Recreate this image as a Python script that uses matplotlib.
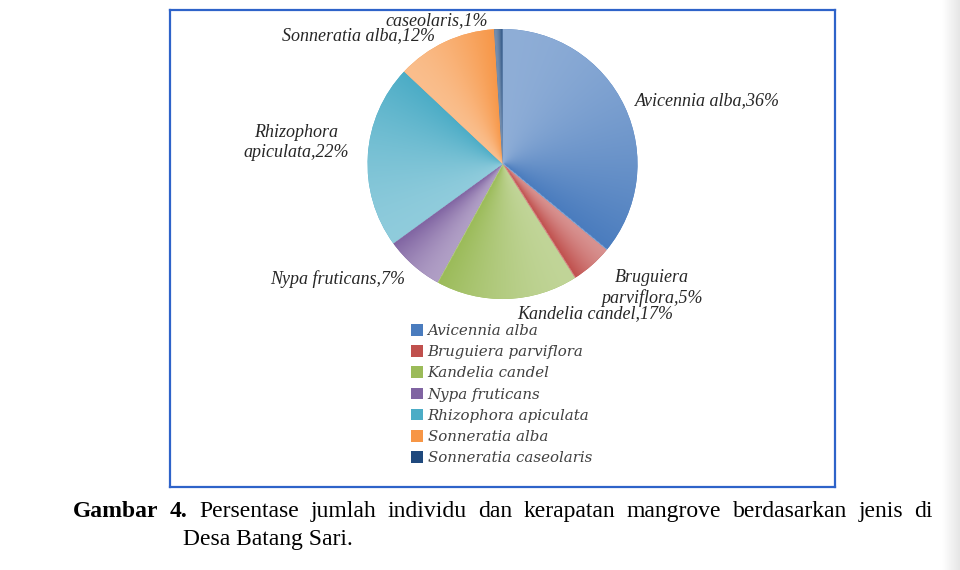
"""Pie chart: persentase jumlah individu mangrove per jenis, Desa Batang Sari."""
import numpy as np
import matplotlib

matplotlib.use("Agg")
import matplotlib.pyplot as plt
from matplotlib.colors import to_rgb
from matplotlib.patches import Patch

# data
species = ["Avicennia alba", "Bruguiera parviflora", "Kandelia candel",
           "Nypa fruticans", "Rhizophora apiculata", "Sonneratia alba",
           "Sonneratia caseolaris"]
percent = [36, 5, 17, 7, 22, 12, 1]
pie_labels = ["Avicennia alba,36%", "Bruguiera\nparviflora,5%",
              "Kandelia candel,17%", "Nypa fruticans,7%",
              "Rhizophora\napiculata,22%", "Sonneratia alba,12%",
              "Sonneratia\ncaseolaris,1%"]
caption_bold = "Gambar 4."
caption_line1 = "Persentase jumlah individu dan kerapatan mangrove berdasarkan jenis di"
caption_line2 = "Desa Batang Sari."

# Office-ish palette
COLORS = ["#4A7CBE", "#C0504D", "#9BBB59", "#8064A2", "#4BACC6", "#F79646", "#1F497D"]
BORDER = "#2E63C9"
LABEL_COLOR = "#262626"

W, H = 960, 570
BOX = (170, 10, 835, 487)          # left, top, right, bottom in pixels
CX, CY, R = 502.5, 164, 135        # pie centre / radius in pixels

# label anchors (pixel x, pixel baseline of last line, ha)
LABEL_POS = [(635, 105, "left"), (652, 303, "center"), (595, 318, "center"),
             (338, 284, "center"), (296, 157, "center"), (358, 40, "center"),
             (437, 25, "center")]

fig = plt.figure(figsize=(W / 100, H / 100), dpi=100)
fig.patch.set_facecolor("white")

l, t, r, b = BOX
ax = fig.add_axes([l / W, (H - b) / H, (r - l) / W, (b - t) / H])

wedges, _ = ax.pie(percent, colors=COLORS, startangle=90, counterclock=False,
                   radius=1, center=(0, 0), frame=True,
                   wedgeprops=dict(linewidth=0))

# angular gradient inside each wedge: lighter at clockwise start, full colour at end
n = 400
gx, gy = np.meshgrid(np.linspace(-1, 1, n), np.linspace(-1, 1, n))
ang = np.degrees(np.arctan2(gy, gx))
for w, c in zip(wedges, COLORS):
    base = np.array(to_rgb(c))
    light = base + (1 - base) * 0.38
    a = w.theta1 + np.mod(ang - w.theta1, 360)
    frac = np.clip((w.theta2 - a) / (w.theta2 - w.theta1), 0, 1) ** 1.6
    img = light[None, None, :] * (1 - frac[..., None]) + base[None, None, :] * frac[..., None]
    im = ax.imshow(img, extent=(-1, 1, -1, 1), origin="lower",
                   interpolation="bilinear", zorder=w.get_zorder() + 0.1)
    im.set_clip_path(w)

ax.set_xlim((l - CX) / R, (r - CX) / R)
ax.set_ylim((CY - b) / R, (CY - t) / R)
ax.set_aspect("auto")
ax.set_xticks([])
ax.set_yticks([])
for sp in ax.spines.values():
    sp.set_color(BORDER)
    sp.set_linewidth(1.6)

for txt, (px, py, ha) in zip(pie_labels, LABEL_POS):
    ax.text((px - CX) / R, (CY - py) / R, txt, ha=ha, va="baseline",
            multialignment="center", family="Liberation Serif", style="italic",
            fontsize=13, color=LABEL_COLOR, linespacing=1.25, clip_on=True,
            zorder=5)

handles = [Patch(facecolor=c, edgecolor="none") for c in COLORS]
fig.legend(handles, species, loc="upper left",
           bbox_to_anchor=(411 / W, (H - 324) / H), frameon=False,
           prop=dict(family="DejaVu Serif", style="italic", size=10.8),
           labelcolor="#404040", handlelength=0.8, handleheight=0.8,
           handletextpad=0.3, labelspacing=0.48, borderpad=0, borderaxespad=0)

# caption, justified first line
renderer = fig.canvas.get_renderer()
words = [(w_, "bold") for w_ in caption_bold.split()] + \
        [(w_, "normal") for w_ in caption_line1.split()]
texts = [fig.text(0, (H - 517) / H, w_, family="Liberation Serif", weight=wt,
                  fontsize=17, color="black", va="baseline") for w_, wt in words]
widths = [tx.get_window_extent(renderer).width for tx in texts]
x0, x1 = 73, 933
gap = (x1 - x0 - sum(widths)) / (len(texts) - 1)
x = x0
for tx, wd in zip(texts, widths):
    tx.set_x(x / W)
    x += wd + gap
fig.text(183 / W, (H - 545) / H, caption_line2, family="Liberation Serif",
         fontsize=17, color="black", va="baseline")

# faint page shadow on the right edge
sh = fig.add_axes([942 / W, 0, 18 / W, 1])
sh.imshow(np.linspace(1.0, 0.9, 64)[None, :], cmap="gray", vmin=0, vmax=1,
          aspect="auto", interpolation="bilinear")
sh.axis("off")

fig.savefig("out.png", dpi=100)
